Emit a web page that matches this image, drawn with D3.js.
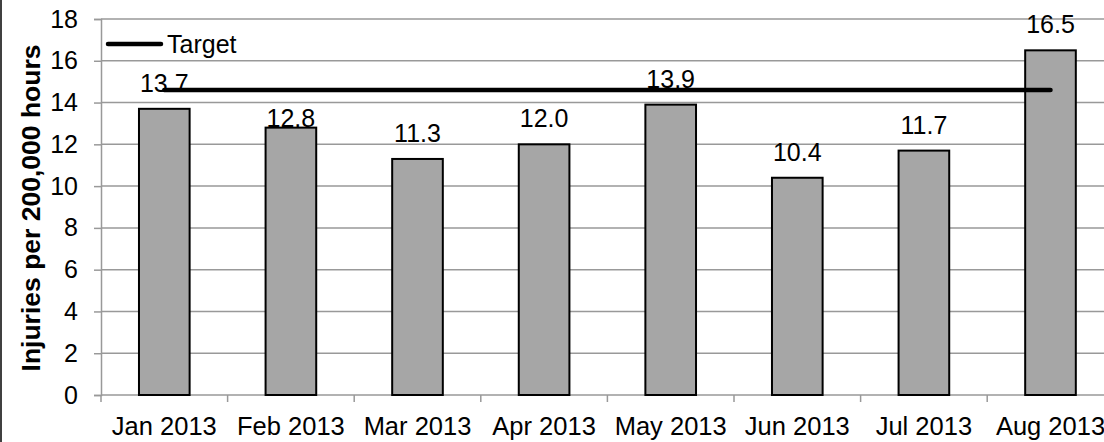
<!DOCTYPE html>
<html>
<head>
<meta charset="utf-8">
<script src="https://cdn.jsdelivr.net/npm/d3@7"></script>
<style>
  body { margin: 0; background: #fff; }
  text { font-family: "Liberation Sans", Arial, sans-serif; }
</style>
</head>
<body>
<div id="chart"></div>
<script>
// données du graphique
const months = ["Jan 2013", "Feb 2013", "Mar 2013", "Apr 2013", "May 2013", "Jun 2013", "Jul 2013", "Aug 2013"]
const injuries = [13.7, 12.8, 11.3, 12.0, 13.9, 10.4, 11.7, 16.5]
const target = 14.6
const yTicks = [0, 2, 4, 6, 8, 10, 12, 14, 16, 18]

const width = 1104, height = 442
const plotLeft = 101, plotTop = 19, plotBottom = 395
const bandW = 126.6
const fs = 25

const svg = d3.select("#chart").append("svg")
  .attr("width", width)
  .attr("height", height)

// bordure gauche du cadre
svg.append("line")
  .attr("x1", 1).attr("x2", 1).attr("y1", 0).attr("y2", height)
  .attr("stroke", "#000").attr("stroke-width", 1.5)

const x = d3.scaleBand()
  .domain(months)
  .range([plotLeft, plotLeft + bandW * months.length])
  .paddingInner(0.6).paddingOuter(0.3)

const y = d3.scaleLinear()
  .domain([0, 18])
  .range([plotBottom, plotTop])

// quadrillage
svg.append("g")
  .selectAll("line")
  .data(yTicks)
  .join("line")
    .attr("x1", plotLeft).attr("x2", width)
    .attr("y1", d => y(d)).attr("y2", d => y(d))
    .attr("stroke", "#999").attr("stroke-width", 1.5)

// axe Y
const yAxis = svg.append("g")
  .attr("transform", `translate(${plotLeft},0)`)
  .call(d3.axisLeft(y).tickValues(yTicks).tickSize(7).tickPadding(16))
yAxis.select(".domain").attr("stroke", "#999").attr("stroke-width", 1.5)
yAxis.selectAll(".tick line").attr("stroke", "#999").attr("stroke-width", 1.5)
yAxis.selectAll("text").attr("font-size", fs).attr("fill", "#000")
  .style("font-family", "'Liberation Sans', Arial, sans-serif")

// axe X (graduations entre les catégories)
const xAxis = svg.append("g")
  .attr("transform", `translate(0,${plotBottom})`)
xAxis.selectAll("line")
  .data(d3.range(months.length + 1))
  .join("line")
    .attr("x1", i => plotLeft + i * bandW).attr("x2", i => plotLeft + i * bandW)
    .attr("y1", 0).attr("y2", 7)
    .attr("stroke", "#999").attr("stroke-width", 1.5)
xAxis.selectAll("text")
  .data(months)
  .join("text")
    .attr("x", d => x(d) + x.bandwidth() / 2)
    .attr("y", 40)
    .attr("text-anchor", "middle")
    .attr("font-size", 25.5)
    .text(d => d)

// barres
svg.selectAll("rect.bar")
  .data(months)
  .join("rect")
    .attr("class", "bar")
    .attr("x", d => x(d))
    .attr("y", (d, i) => y(injuries[i]))
    .attr("width", x.bandwidth())
    .attr("height", (d, i) => plotBottom - y(injuries[i]))
    .attr("fill", "#a6a6a6")
    .attr("stroke", "#000")
    .attr("stroke-width", 2)

// étiquettes des valeurs (Feb déplacée à la main dans l'original)
const nudge = {"Feb 2013": 16}
svg.selectAll("text.lbl")
  .data(months)
  .join("text")
    .attr("class", "lbl")
    .attr("x", d => x(d) + x.bandwidth() / 2)
    .attr("y", (d, i) => y(injuries[i]) - 17 + (nudge[d] || 0))
    .attr("text-anchor", "middle")
    .attr("font-size", fs)
    .text((d, i) => injuries[i].toFixed(1))

// ligne cible
const cx = d => x(d) + x.bandwidth() / 2
svg.append("line")
  .attr("x1", cx(months[0])).attr("x2", cx(months[months.length - 1]))
  .attr("y1", y(target)).attr("y2", y(target))
  .attr("stroke", "#000").attr("stroke-width", 4.5).attr("stroke-linecap", "round")

// légende
svg.append("line")
  .attr("x1", 108).attr("x2", 161).attr("y1", 44).attr("y2", 44)
  .attr("stroke", "#000").attr("stroke-width", 4.5).attr("stroke-linecap", "round")
svg.append("text")
  .attr("x", 167).attr("y", 52.5)
  .attr("font-size", fs)
  .text("Target")

// titre de l'axe Y
svg.append("text")
  .attr("transform", "translate(40,208)rotate(-90)")
  .attr("text-anchor", "middle")
  .attr("font-size", 26.5)
  .attr("font-weight", "bold")
  .text("Injuries per 200,000 hours")
</script>
</body>
</html>
